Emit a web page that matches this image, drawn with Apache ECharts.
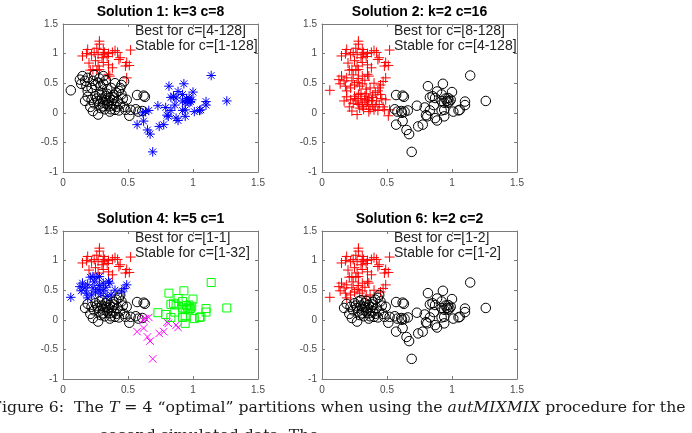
<!DOCTYPE html>
<html>
<head>
<meta charset="utf-8">
<script src="https://cdn.jsdelivr.net/npm/echarts@6/dist/echarts.min.js"></script>
<style>
html, body { margin: 0; padding: 0; background: #fff; }
#chart { width: 692px; height: 433px; }
</style>
</head>
<body>
<div id="chart"></div>
<script>
// axis ranges / ticks
var xRange = [0, 1.5];
var yRange = [-1, 1.5];
var tickStep = 0.5;

// the same points are drawn in every panel; they are kept in groups
// according to how the four solutions split them
var grpTop = [ // red in all solutions
	[0.28, 1.21], [0.28, 1.16], [0.26, 1.09], [0.18, 1.00], [0.19, 1.07], [0.22, 0.98],
	[0.24, 1.02], [0.31, 0.98], [0.32, 1.02], [0.34, 0.95], [0.35, 1.00], [0.40, 1.05],
	[0.42, 1.02], [0.43, 0.90], [0.44, 0.93], [0.52, 1.06], [0.49, 0.85], [0.51, 0.80],
	[0.48, 0.79], [0.20, 0.84], [0.25, 0.88], [0.27, 0.79], [0.31, 0.85], [0.35, 0.81],
	[0.38, 0.76], [0.30, 0.93], [0.27, 0.99], [0.38, 1.02], [0.15, 0.96], [0.31, 1.07]
];
var grpMidHigh = [ // red in sol 1, blue in sol 4
	[0.21, 0.72], [0.23, 0.73], [0.26, 0.72], [0.28, 0.73], [0.35, 0.65], [0.36, 0.62], [0.49, 0.59]
];
var grpMid = [ // black in sol 1, blue in sol 4
	[0.06, 0.38], [0.15, 0.62], [0.13, 0.56], [0.14, 0.49], [0.17, 0.54], [0.18, 0.45],
	[0.19, 0.59], [0.23, 0.54], [0.25, 0.47], [0.27, 0.51], [0.29, 0.45], [0.31, 0.49],
	[0.22, 0.42], [0.19, 0.37], [0.34, 0.40], [0.37, 0.42], [0.47, 0.53], [0.45, 0.47],
	[0.24, 0.64], [0.31, 0.62], [0.33, 0.55], [0.40, 0.50], [0.28, 0.58]
];
var grpCoreLeft = [ // black in sol 1/4/6, red in sol 2
	[0.19, 0.27], [0.23, 0.03], [0.27, -0.03], [0.25, 0.28], [0.28, 0.31], [0.30, 0.33],
	[0.33, 0.28], [0.36, 0.25], [0.39, 0.30], [0.41, 0.34], [0.44, 0.42], [0.43, 0.37],
	[0.45, 0.31], [0.49, 0.22], [0.52, 0.05], [0.28, 0.14], [0.31, 0.17], [0.34, 0.14],
	[0.36, 0.11], [0.39, 0.14], [0.37, 0.06], [0.32, 0.06], [0.27, 0.20], [0.24, 0.16],
	[0.21, 0.10], [0.42, 0.20], [0.44, 0.14], [0.47, 0.10], [0.40, 0.05], [0.29, 0.08],
	[0.35, 0.20], [0.38, 0.21], [0.30, 0.24], [0.33, 0.22], [0.26, 0.24], [0.41, 0.10],
	[0.36, 0.02], [0.43, 0.04], [0.22, 0.22], [0.39, 0.26], [0.31, 0.11], [0.34, 0.32],
	[0.17, 0.20], [0.46, 0.24], [0.48, 0.05], [0.51, -0.05]
];
var grpCoreRight = [ // black everywhere
	[0.57, 0.30], [0.62, 0.29], [0.63, 0.27], [0.56, 0.06], [0.58, 0.02], [0.61, 0.03]
];
var grpLow = [ // magenta in sol 4
	[0.615, 0.00], [0.635, 0.02], [0.66, 0.04], [0.62, -0.14], [0.65, -0.29], [0.67, -0.36],
	[0.74, -0.23], [0.775, -0.20], [0.81, -0.06], [0.87, -0.09], [0.885, -0.13], [0.69, -0.66],
	[0.57, -0.20], [0.80, -0.04]
];
var grpRight = [ // green in sol 4
	[0.815, 0.45], [0.93, 0.49], [1.14, 0.63], [0.885, 0.36], [0.85, 0.28], [0.83, 0.26],
	[1.00, 0.35], [0.73, 0.12], [0.79, 0.09], [0.83, 0.04], [0.86, 0.13], [0.87, 0.25],
	[0.92, 0.20], [0.94, 0.17], [0.95, 0.24], [0.96, 0.20], [0.97, 0.25], [0.98, 0.19],
	[0.99, 0.22], [0.94, 0.05], [0.92, 0.04], [0.94, -0.06], [1.01, 0.02], [1.05, 0.04],
	[1.06, 0.05], [1.10, 0.19], [1.10, 0.13], [1.26, 0.20], [0.92, 0.31], [0.97, 0.17]
];

var titles = ['Solution 1: k=3 c=8', 'Solution 2: k=2 c=16', 'Solution 4: k=5 c=1', 'Solution 6: k=2 c=2'];
var bestFor = ['Best for c=[4-128]', 'Best for c=[8-128]', 'Best for c=[1-1]', 'Best for c=[1-2]'];
var stableFor = ['Stable for c=[1-128]', 'Stable for c=[4-128]', 'Stable for c=[1-32]', 'Stable for c=[1-2]'];

// markers (matlab style)
var MK = {
	plus : { symbol : 'path://M0,5L10,5M5,0L5,10', color : '#ff0000', size : 10 },
	circ : { symbol : 'circle', color : '#000000', size : 9.5 },
	star : { symbol : 'path://M0,5L10,5M5,0L5,10M1.5,1.5L8.5,8.5M1.5,8.5L8.5,1.5', color : '#0000ff', size : 9.5 },
	xmark : { symbol : 'path://M0,0L10,10M0,10L10,0', color : '#ff00ff', size : 7.5 },
	sq : { symbol : 'rect', color : '#00ff00', size : 8 }
};

// clusters per solution
var solutions = [
	[ [ 'plus', [grpTop, grpMidHigh] ], [ 'circ', [grpMid, grpCoreLeft, grpCoreRight] ], [ 'star', [grpLow, grpRight] ] ],
	[ [ 'plus', [grpTop, grpMidHigh, grpMid, grpCoreLeft] ], [ 'circ', [grpCoreRight, grpLow, grpRight] ] ],
	[ [ 'plus', [grpTop] ], [ 'circ', [grpCoreLeft, grpCoreRight] ], [ 'star', [grpMidHigh, grpMid] ], [ 'xmark', [grpLow] ], [ 'sq', [grpRight] ] ],
	[ [ 'plus', [grpTop, grpMidHigh, grpMid] ], [ 'circ', [grpCoreLeft, grpCoreRight, grpLow, grpRight] ] ]
];

var gridPos = [ [63, 24], [322, 24], [63, 231], [322, 231] ];
var gridW = 195, gridH = 148;

var axisColor = '#7a7a7a';
var labelColor = '#4a4a4a';
var fontFam = '"Liberation Sans", Arial, sans-serif';
var serifFam = '"DejaVu Serif", "Liberation Serif", serif';

var grids = [], xAxes = [], yAxes = [], series = [], graphics = [];

gridPos.forEach(function(p, i) {
	grids.push({ left : p[0], top : p[1], width : gridW, height : gridH, containLabel : false });
	['bottom', 'top'].forEach(function(pos) {
		xAxes.push({
			gridIndex : i, type : 'value', position : pos,
			min : xRange[0], max : xRange[1], interval : tickStep,
			axisLine : { show : true, onZero : false, lineStyle : { color : axisColor, width : 1 } },
			axisTick : { show : true, inside : true, length : 3, lineStyle : { color : axisColor } },
			axisLabel : { show : pos === 'bottom', color : labelColor, fontSize : 10, fontFamily : fontFam, margin : 6 },
			splitLine : { show : false }
		});
	});
	['left', 'right'].forEach(function(pos) {
		yAxes.push({
			gridIndex : i, type : 'value', position : pos,
			min : yRange[0], max : yRange[1], interval : tickStep,
			axisLine : { show : true, onZero : false, lineStyle : { color : axisColor, width : 1 } },
			axisTick : { show : true, inside : true, length : 3, lineStyle : { color : axisColor } },
			axisLabel : { show : pos === 'left', color : labelColor, fontSize : 10, fontFamily : fontFam, margin : 5 },
			splitLine : { show : false }
		});
	});

	solutions[i].forEach(function(cl) {
		var m = MK[cl[0]];
		var pts = [];
		cl[1].forEach(function(g) { pts = pts.concat(g); });
		var hollow = (cl[0] === 'circ' || cl[0] === 'sq');
		series.push({
			type : 'scatter',
			xAxisIndex : i * 2,
			yAxisIndex : i * 2,
			data : pts,
			symbol : m.symbol,
			symbolSize : m.size,
			silent : true,
			animation : false,
			itemStyle : {
				color : hollow ? 'rgba(0,0,0,0)' : m.color,
				borderColor : m.color,
				borderWidth : 1,
				opacity : 1
			}
		});
	});

	var cx = p[0] + gridW / 2;
	graphics.push({
		type : 'text', x : cx, y : p[1] - 11.5,
		style : { text : titles[i], fill : '#000', font : 'bold 14px ' + fontFam, align : 'center', verticalAlign : 'middle' }
	});
	graphics.push({
		type : 'text', x : p[0] + 72, y : p[1] + 7.5,
		style : { text : bestFor[i], fill : '#222', font : '14px ' + fontFam, align : 'left', verticalAlign : 'middle' }
	});
	graphics.push({
		type : 'text', x : p[0] + 72, y : p[1] + 22,
		style : { text : stableFor[i], fill : '#222', font : '14px ' + fontFam, align : 'left', verticalAlign : 'middle' }
	});
});

// caption under the figure (cut off by the page edge)
graphics.push({
	type : 'text', x : -9, y : 408,
	style : {
		text : '{r|Figure 6:  The }{i|T}{r| = 4 \u201coptimal\u201d partitions when using the }{i|autMIXMIX}{r| procedure for the}',
		fill : '#111', verticalAlign : 'middle',
		rich : {
			r : { font : '15.7px ' + serifFam, fill : '#1a1a1a' },
			i : { font : 'italic 15.7px ' + serifFam, fill : '#1a1a1a' }
		}
	}
});
graphics.push({
	type : 'text', x : 100, y : 436,
	style : { text : 'second simulated data. The', fill : '#1a1a1a', font : '15.7px ' + serifFam, verticalAlign : 'middle' }
});

var chart = echarts.init(document.getElementById('chart'), null, { renderer : 'canvas' });
chart.setOption({
	animation : false,
	backgroundColor : '#ffffff',
	grid : grids,
	xAxis : xAxes,
	yAxis : yAxes,
	series : series,
	graphic : graphics
});
</script>
</body>
</html>
